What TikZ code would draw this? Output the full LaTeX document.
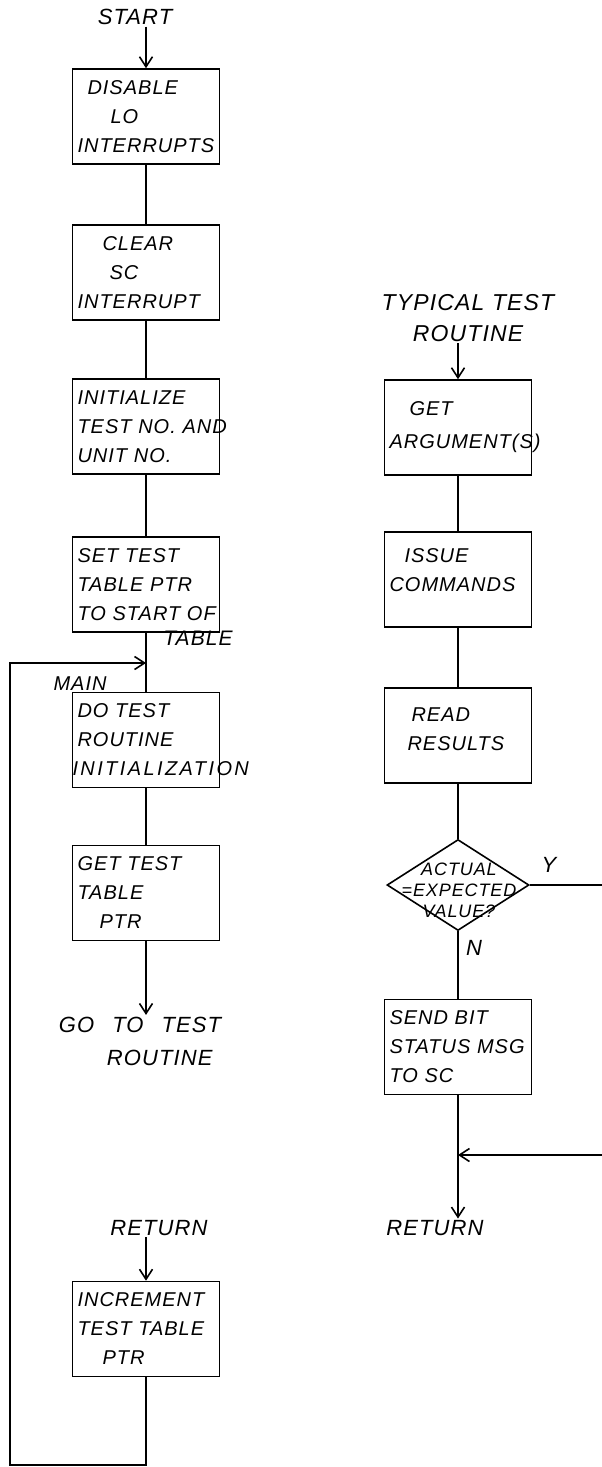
\documentclass[tikz,border=0pt]{standalone}
\usepackage{fontspec}
\newfontfamily\hand{Liberation Sans}[LetterSpace=5]
\usetikzlibrary{shapes.geometric,arrows.meta}
\begin{document}
\begin{tikzpicture}[x=1pt,y=-1pt,line width=1.6pt,
  box/.style={draw, rectangle, minimum width=147pt, minimum height=95pt,
    text width=137pt, inner xsep=5pt, inner ysep=2pt, align=left,
    font=\hand\itshape\fontsize{20}{29}\selectfont},
  lbl/.style={font=\hand\itshape\fontsize{22}{33}\selectfont, align=center, inner sep=1pt},
  small/.style={font=\hand\itshape\fontsize{18}{21}\selectfont, align=center, inner sep=0pt},
  dia/.style={draw, diamond, minimum width=142pt, minimum height=91pt, inner sep=0pt},
  arr/.style={-{Straight Barb[length=10pt,width=13pt]}}]
\useasboundingbox (0,0) rectangle (602,1467);

% ---------------- left column ----------------
\node[lbl] (start) at (135,17) {START};
\node[box] (b1) at (146,116.5) {\hspace*{10pt}DISABLE\\\hspace*{33pt}LO\\INTERRUPTS};
\node[box] (b2) at (146,272.5) {\hspace*{25pt}CLEAR\\\hspace*{32pt}SC\\INTERRUPT};
\node[box] (b3) at (146,426.5) {\mbox{INITIALIZE}\\\mbox{TEST NO. AND}\\\mbox{UNIT NO.}};
\node[box] (b4) at (146,584.5) {\mbox{SET TEST}\\\mbox{TABLE PTR}\\\mbox{TO START OF}};
\node[lbl, font=\hand\itshape\fontsize{21}{30}\selectfont] (b4x) at (198,638) {TABLE};
\node[lbl, font=\hand\itshape\fontsize{20}{30}\selectfont] (main) at (80,684) {MAIN};
\node[box] (b5) at (146,740) {\mbox{DO TEST}\\\mbox{ROUTINE}\\\hspace*{-5pt}\mbox{\addfontfeature{LetterSpace=12}INITIALIZATION}};
\node[box] (b6) at (146,893) {\mbox{GET TEST}\\\mbox{TABLE}\\\hspace*{22pt}PTR};
\node[lbl, align=left] (goto) at (140,1041) {GO\hspace{18pt}TO\hspace{18pt}TEST\\\hspace*{48pt}ROUTINE};
\node[lbl] (ret) at (159,1228) {RETURN};
\node[box] (b7) at (146,1329) {\mbox{INCREMENT}\\\mbox{TEST TABLE}\\\hspace*{25pt}PTR};

\coordinate (jl) at (146,663);
\coordinate (lc) at (10,1465);

\draw[arr] (b1.north |- start.south) -- (b1.north);
\draw (b1) -- (b2);
\draw (b2) -- (b3);
\draw (b3) -- (b4);
\draw (b4) -- (b5);
\draw (b5) -- (b6);
\draw[arr] (b6.south) -- (b6.south |- goto.north);
\draw[arr] (b7.north |- ret.south) -- (b7.north);
\draw[arr] (b7.south) |- (lc) |- (jl);

% ---------------- right column ----------------
\node[lbl, font=\hand\itshape\fontsize{23}{31}\selectfont] (title) at (468,318) {TYPICAL TEST\\ROUTINE};
\node[box] (r1) at (458,427.5) {\hspace*{20pt}GET\\[4pt]\mbox{ARGUMENT(S)}};
\node[box] (r2) at (458,579.5) {\hspace*{15pt}ISSUE\\\mbox{COMMANDS}\\[-10pt]\mbox{}};
\node[box] (r3) at (458,735.5) {\hspace*{22pt}READ\\\hspace*{18pt}RESULTS\\[-17pt]\mbox{}};
\node[dia] (d) at (458,885) {};
\node[small] (dt) at (459,890) {ACTUAL\\=EXPECTED\\VALUE?};
\node[lbl] (yl) at (549,865) {Y};
\node[lbl] (nl) at (474,948) {N};
\node[box] (r4) at (458,1047) {\mbox{SEND BIT}\\\mbox{STATUS MSG}\\\mbox{TO SC}};
\node[lbl] (rret) at (435,1228) {RETURN};

\coordinate (ye) at (602,885);
\coordinate (ys) at (602,1155);
\coordinate (jr) at (458,1155);

\draw[arr] (r1.north |- title.south) -- (r1.north);
\draw (r1) -- (r2);
\draw (r2) -- (r3);
\draw (r3) -- (d.north);
\draw (d.south) -- (r4.north);
\draw (d.east) -- (ye);
\draw[arr] (ys) -- (jr);
\draw[arr] (r4.south) -- (r4.south |- rret.north);
\end{tikzpicture}
\end{document}
